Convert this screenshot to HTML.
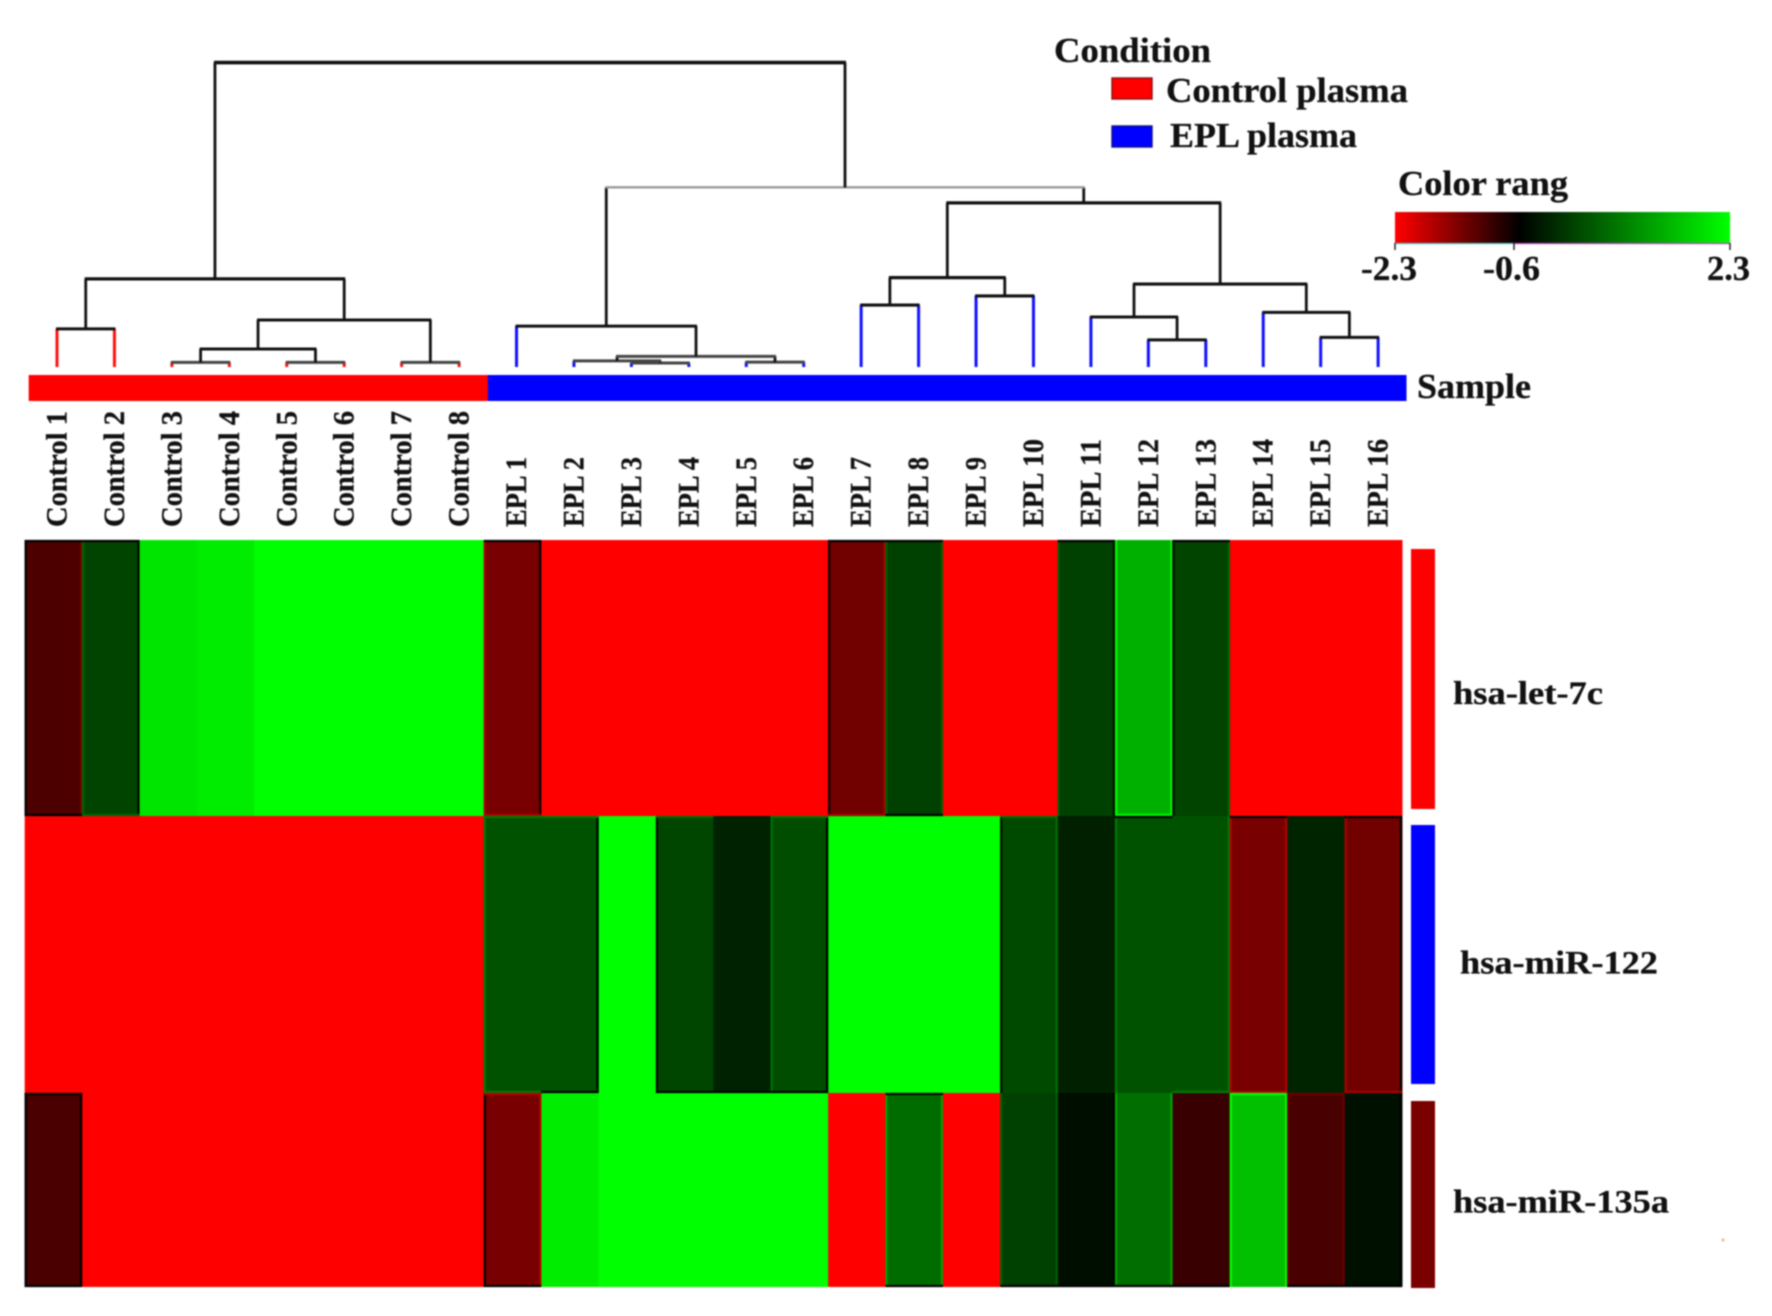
<!DOCTYPE html>
<html lang="en">
<head>
<meta charset="utf-8">
<title>miRNA heatmap</title>
<style>
html,body{margin:0;padding:0;background:#fff;width:1772px;height:1316px;overflow:hidden}
svg{display:block;filter:blur(0.8px)}
text{font-family:"Liberation Serif",serif;font-weight:bold;fill:#111;stroke:#111;stroke-width:0.3px}
</style>
</head>
<body>
<svg id="chart" xmlns="http://www.w3.org/2000/svg" width="1772" height="1316" viewBox="0 0 1772 1316">
  <defs>
    <linearGradient id="colorRamp" x1="0" x2="1" y1="0" y2="0">
      <stop offset="0" stop-color="#ff0000"/>
      <stop offset="0.37" stop-color="#000000"/>
      <stop offset="1" stop-color="#00ff00"/>
    </linearGradient>
  </defs>
  <rect width="1772" height="1316" fill="#fff"/>
  <g id="dendrogram"></g>
  <g id="sampleBar"></g>
  <g id="sampleLabels"></g>
  <g id="heatmap"></g>
  <g id="rowBars"></g>
  <g id="rowLabels"></g>

  <text x="1417" y="398" font-size="35" textLength="114" lengthAdjust="spacingAndGlyphs">Sample</text>

  <g>
    <text x="1054" y="62" font-size="35" textLength="157" lengthAdjust="spacingAndGlyphs">Condition</text>
    <rect x="1112" y="78" width="40" height="21" fill="#ff0000" stroke="#8a1010" stroke-width="1.4"/>
    <text x="1166" y="102" font-size="35" textLength="242" lengthAdjust="spacingAndGlyphs">Control plasma</text>
    <rect x="1112" y="126" width="40" height="21" fill="#0000ff" stroke="#10108a" stroke-width="1.4"/>
    <text x="1170" y="147" font-size="35" textLength="187" lengthAdjust="spacingAndGlyphs">EPL plasma</text>
  </g>

  <g>
    <text x="1398" y="195" font-size="35" textLength="170" lengthAdjust="spacingAndGlyphs">Color rang</text>
    <rect x="1395" y="212" width="335" height="31" fill="url(#colorRamp)"/>
    <line x1="1395" y1="243.5" x2="1514" y2="243.5" stroke="#40c8c8" stroke-width="1.2"/>
    <line x1="1514" y1="243.5" x2="1730" y2="243.5" stroke="#c040c8" stroke-width="1.2"/>
    <line x1="1395" y1="243" x2="1395" y2="250" stroke="#222" stroke-width="1.5"/>
    <line x1="1514" y1="243" x2="1514" y2="250" stroke="#222" stroke-width="1.5"/>
    <line x1="1730" y1="243" x2="1730" y2="250" stroke="#222" stroke-width="1.5"/>
    <text x="1361" y="280" font-size="35" textLength="56" lengthAdjust="spacingAndGlyphs">-2.3</text>
    <text x="1483" y="280" font-size="35" textLength="57" lengthAdjust="spacingAndGlyphs">-0.6</text>
    <text x="1707" y="280" font-size="35" textLength="43" lengthAdjust="spacingAndGlyphs">2.3</text>
  </g>
  <circle cx="1723" cy="1240" r="1.5" fill="#f6b080"/>
</svg>

<script>
// ---- Data ----
const sampleNames = ["Control 1","Control 2","Control 3","Control 4","Control 5","Control 6","Control 7","Control 8",
  "EPL 1","EPL 2","EPL 3","EPL 4","EPL 5","EPL 6","EPL 7","EPL 8","EPL 9","EPL 10","EPL 11","EPL 12","EPL 13","EPL 14","EPL 15","EPL 16"];
const sampleConditions = ["Control","Control","Control","Control","Control","Control","Control","Control",
  "EPL","EPL","EPL","EPL","EPL","EPL","EPL","EPL","EPL","EPL","EPL","EPL","EPL","EPL","EPL","EPL"];
const geneNames = ["hsa-let-7c","hsa-miR-122","hsa-miR-135a"];
const let7cValues = [-1.11,0.17,2.0,2.1,2.3,2.3,2.3,2.3,-1.4,-2.3,-2.3,-2.3,-2.3,-2.3,-1.35,0.13,-2.3,-2.3,0.13,1.4,0.17,-2.3,-2.3,-2.3];
const miR122Values = [-2.3,-2.3,-2.3,-2.3,-2.3,-2.3,-2.3,-2.3,0.33,0.33,2.3,0.2,-0.21,0.28,2.3,2.3,2.3,0.24,-0.24,0.33,0.33,-1.4,-0.19,-1.35];
const miR135aValues = [-1.09,-2.3,-2.3,-2.3,-2.3,-2.3,-2.3,-2.3,-1.4,2.1,2.3,2.3,2.3,2.3,-2.3,0.63,-2.3,0.13,-0.44,0.65,-0.97,1.58,-1.08,-0.42];

const mergeNames = ["c12","c34","c56","c78","c36","c38","control","e34","e24","e56","e26","e16","e78","e910","e710","e1213","e1113","e1516","e1416","e1116","e716","epl","root"];
const mergeLeft = ["Control 1","Control 3","Control 5","Control 7","c34","c36","c12","EPL 3","EPL 2","EPL 5","e24","EPL 1","EPL 7","EPL 9","e78","EPL 12","EPL 11","EPL 15","EPL 14","e1113","e710","e16","control"];
const mergeRight = ["Control 2","Control 4","Control 6","Control 8","c56","c78","c38","EPL 4","e34","EPL 6","e56","e26","EPL 8","EPL 10","e910","EPL 13","e1213","EPL 16","e1516","e1416","e1116","e716","epl"];
const mergeHeights = [12.5,1.5,1.5,1.5,5.9,15.4,28.9,1.3,2.0,1.6,3.5,13.4,20.3,23.3,29.3,8.9,16.4,9.7,17.9,27.2,53.8,58.9,99.8];
const scaleTicks = [-2.3,-0.6,2.3];

const rows = [let7cValues, miR122Values, miR135aValues];

// ---- Axis functions ----
const SVGNS = "http://www.w3.org/2000/svg";
const gridLeft = 24.7, gridRight = 1402;
const colW = (gridRight - gridLeft) / sampleNames.length;
const rowEdges = [540, 816, 1093, 1287];
const cellX = i => gridLeft + i * colW;
const leafX = i => 57 + i * 57.44;
const heightY = h => 367 - h * 3.05;

function make(tag, attrs, parent) {
  const el = document.createElementNS(SVGNS, tag);
  for (const k in attrs) el.setAttribute(k, attrs[k]);
  parent.appendChild(el);
  return el;
}
function valueColor(v) {
  const lo = scaleTicks[0], mid = scaleTicks[1], hi = scaleTicks[2];
  if (v < mid) {
    const t = Math.min(1, (mid - v) / (mid - lo));
    return [Math.round(255 * t), 0, 0];
  }
  const t = Math.min(1, (v - mid) / (hi - mid));
  return [0, Math.round(255 * t), 0];
}
const rgb = c => "rgb(" + c.join(",") + ")";
const intensity = v => { const c = valueColor(v); return Math.max(c[0], c[1]); };
const isRed = v => v < scaleTicks[1];

// ---- Heatmap ----
const heatmap = document.getElementById("heatmap");
rows.forEach((vals, r) => {
  vals.forEach((v, i) => {
    const x = cellX(i), w = colW + 0.5, y = rowEdges[r], h = rowEdges[r + 1] - y;
    const cell = make("rect", {x: x, y: y, width: w, height: h, fill: rgb(valueColor(v))}, heatmap);
    
    
  });
});
// scan ringing along cell sides: dark halo beside a brighter same-hue cell, bright rim otherwise
rows.forEach((vals, r) => {
  vals.forEach((v, i) => {
    const me = intensity(v);
    if (me > 215) return;
    const x = cellX(i), y = rowEdges[r], y2 = rowEdges[r + 1];
    const sides = [
      [i === 0 ? null : vals[i - 1], x + 1, y, x + 1, y2],
      [i === vals.length - 1 ? null : vals[i + 1], x + colW - 1, y, x + colW - 1, y2],
      [r === 0 ? null : rows[r - 1][i], x, y + 1, x + colW, y + 1],
      [r === rows.length - 1 ? null : rows[r + 1][i], x, y2 - 1, x + colW, y2 - 1]
    ];
    sides.forEach(s => {
      const nb = s[0];
      let stroke = null;
      if (nb === null) {
        if (me <= 125) stroke = "#000";
      } else if (isRed(nb) === isRed(v) && intensity(nb) - me > 90) {
        stroke = "#000";
      } else if (me >= 60 && (isRed(nb) !== isRed(v) || me - intensity(nb) > 40)) {
        const c = valueColor(v);
        stroke = rgb(c.map(ch => Math.min(255, Math.round(ch * 1.5))));
      }
      if (!stroke) return;
      const edge = make("line", {x1: s[1], y1: s[2], x2: s[3], y2: s[4], stroke: stroke, "stroke-width": 2.2}, heatmap);
      
      
    });
  });
});

// ---- Sample condition bar ----
const sampleBar = document.getElementById("sampleBar");
const barLeft = 28.7, barRight = 1406, barStep = (barRight - barLeft) / sampleNames.length;
sampleConditions.forEach((cond, i) => {
  const seg = make("rect", {x: barLeft + i * barStep, y: 375, width: barStep + 0.5, height: 26, fill: cond === "Control" ? "#ff0000" : "#0000ff"}, sampleBar);
  
  
});

// ---- Sample labels ----
const sampleLabels = document.getElementById("sampleLabels");
sampleNames.forEach((name, i) => {
  const lx = leafX(i) + 9.5, ly = 527;
  const isControl = sampleConditions[i] === "Control";
  const twoDigit = name.length > 5 && !isControl;
  const t = make("text", {
    x: lx, y: ly, "font-size": 30,
    transform: "rotate(-90 " + lx + " " + ly + ")",
    textLength: isControl ? 116 : (twoDigit ? 88 : 70),
    lengthAdjust: "spacingAndGlyphs"
  }, sampleLabels);
  t.textContent = name;
  
  
});

// ---- Dendrogram ----
const dendrogram = document.getElementById("dendrogram");
const nodes = {};
sampleNames.forEach((name, i) => { nodes[name] = {x: leafX(i), h: 0, leaf: true, cond: sampleConditions[i]}; });
mergeNames.forEach((name, m) => {
  const a = nodes[mergeLeft[m]], b = nodes[mergeRight[m]], h = mergeHeights[m];
  nodes[name] = {x: (a.x + b.x) / 2, h: h, leaf: false};
  const top = heightY(h);
  const low = h < 5;
  const main = name === "epl" ? "#999" : (low ? "#444" : "#111");
  const width = name === "root" ? 3.6 : (name === "epl" ? 2.4 : (h > 20 ? 3.2 : 3));
  [a, b].forEach(ch => {
    const stem = make("line", {x1: ch.x, y1: top, x2: ch.x, y2: heightY(ch.h),
      stroke: ch.leaf ? (ch.cond === "Control" ? "#ff1010" : "#1010ff") : "#111", "stroke-width": ch.leaf ? 3 : 2.8}, dendrogram);
    
    
  });
  const bar = make("line", {x1: a.x - 1, y1: top, x2: b.x + 1, y2: top, stroke: main, "stroke-width": width}, dendrogram);
  
  
});

// ---- Row side bars and labels ----
const rowBars = document.getElementById("rowBars");
const rowBarEdges = [[549, 809], [825, 1084], [1101, 1288]];
const rowBarColors = ["#ff0000", "#0000ff", "#7a0000"];
geneNames.forEach((g, r) => {
  const rb = make("rect", {x: 1411, y: rowBarEdges[r][0], width: 24, height: rowBarEdges[r][1] - rowBarEdges[r][0], fill: rowBarColors[r]}, rowBars);
  
  
});
const rowLabels = document.getElementById("rowLabels");
const rowLabelBox = [[1453, 704, 150], [1460, 973.6, 198], [1453, 1212.7, 216]];
geneNames.forEach((g, r) => {
  const t = make("text", {x: rowLabelBox[r][0], y: rowLabelBox[r][1], "font-size": 33, textLength: rowLabelBox[r][2], lengthAdjust: "spacingAndGlyphs"}, rowLabels);
  t.textContent = g;
  
  
});
</script>
</body>
</html>
